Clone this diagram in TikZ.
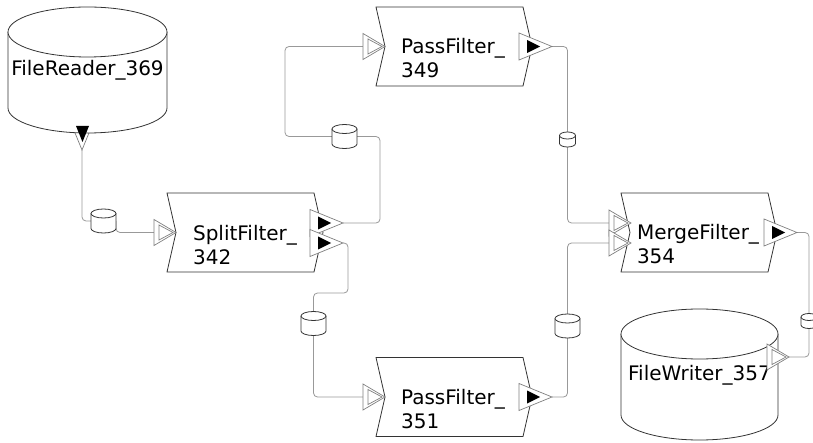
\documentclass[tikz,border=0pt]{standalone}
\usepackage{fontspec}
\setmainfont{DejaVu Sans}

\begin{document}
\begin{tikzpicture}[x=1pt, y=-1pt,
    box/.style={draw=black!80, fill=white, line width=0.8pt},
    wire/.style={draw=black!40, line width=0.8pt, rounded corners=4pt},
    portline/.style={draw=black!50, line width=0.7pt},
    label/.style={font=\fontsize{20}{24}\selectfont, align=left, inner sep=0pt},
    inport/.pic={
        \draw[portline, fill=white] (-22,-13) -- (-22,13) -- (0,0) -- cycle;
        \draw[portline] (-17,-7.5) -- (-17,7.5) -- (-3,0) -- cycle;
    },
    outport/.pic={
        \draw[portline, fill=white] (-33,-13.5) -- (-33,13.5) -- (0,0) -- cycle;
        \fill[black] (-25,-6.5) -- (-25,6.5) -- (-12,0) -- cycle;
    },
    chanbig/.pic={
        \draw[box] (-12.5,-7.5) -- (-12.5,7.5) arc[start angle=180, end angle=0, x radius=12.5, y radius=4.5] -- (12.5,-7.5);
        \draw[box] (0,-7.5) ellipse [x radius=12.5, y radius=4.5];
    },
    chansmall/.pic={
        \draw[box] (-8,-4) -- (-8,4) arc[start angle=180, end angle=0, x radius=8, y radius=3.5] -- (8,-4);
        \draw[box] (0,-4) ellipse [x radius=8, y radius=3.5];
    }]
    % Page and background
    \useasboundingbox (0,0) rectangle (813,443);
    \fill[white] (0,0) rectangle (813,443);

    % Ports and channels
    \coordinate (rdout) at (82,150);
    \coordinate (spin) at (176,232.5);
    \coordinate (spout1) at (343,223);
    \coordinate (spout2) at (343,243);
    \coordinate (pfain) at (385,46.5);
    \coordinate (pfaout) at (552,46.5);
    \coordinate (pfbin) at (385,397);
    \coordinate (pfbout) at (552,397);
    \coordinate (mgin1) at (631,223);
    \coordinate (mgin2) at (631,243);
    \coordinate (mgout) at (797,232.5);
    \coordinate (wrin) at (789,357);
    \coordinate (c1) at (103.5,221);
    \coordinate (c2) at (344.5,136.5);
    \coordinate (c3) at (313.5,323.5);
    \coordinate (c4) at (567.5,326);
    \coordinate (c5) at (567.5,139.5);
    \coordinate (c6) at (809,321);

    % Wires
    \draw[wire] (rdout) |- (c1);
    \draw[wire] (c1) ++(12.5,0) |- (spin);
    \draw[wire] (spout1) -- (380,223) -- (380,136.5) -- (285,136.5) -- (285,46.5) -- (pfain);
    \draw[wire] (spout2) -- (348,243) -- (348,293) -- (313.5,293) -- (313.5,397) -- (pfbin);
    \draw[wire] (pfaout) -| (c5) |- (mgin1);
    \draw[wire] (pfbout) -| (c4) |- (mgin2);
    \draw[wire] (mgout) -| (c6) |- (wrin);

    % FileReader
    \pic[rotate=-90] at (rdout) {outport};
    \draw[box] (8,32) -- (8,108) arc[start angle=180, end angle=0, x radius=79.5, y radius=25] -- (167,32);
    \draw[box] (87.5,32) ellipse [x radius=79.5, y radius=25];
    \fill[black] (76,126) -- (89,126) -- (82.5,142) -- cycle;
    \node[label] (reader) at (87.5,70) {FileReader\_369};

    % FileWriter
    \draw[box] (621,334) -- (621,415) arc[start angle=180, end angle=0, x radius=78.5, y radius=25] -- (778,334);
    \draw[box] (699.5,334) ellipse [x radius=78.5, y radius=25];
    \node[label] (writer) at (699.5,375) {FileWriter\_357};

    % Filters
    \draw[box] (167,193) -- (314,193) -- (323,232.5) -- (314,272) -- (167,272) -- (176,232.5) -- cycle;
    \draw[box] (376,7) -- (523,7) -- (532,46.5) -- (523,86) -- (376,86) -- (385,46.5) -- cycle;
    \draw[box] (376,357.5) -- (523,357.5) -- (532,397) -- (523,436.5) -- (376,436.5) -- (385,397) -- cycle;
    \draw[box] (621,193) -- (768,193) -- (777,232.5) -- (768,272) -- (621,272) -- (630,232.5) -- cycle;
    \node[label, anchor=base] (split) at (245,264.5) {SplitFilter\_\\342};
    \node[label, anchor=base] (pfa) at (453,77.5) {PassFilter\_\\349};
    \node[label, anchor=base] (pfb) at (453,428.5) {PassFilter\_\\351};
    \node[label, anchor=base] (merge) at (698,264) {MergeFilter\_\\354};

    % Channels
    \pic at (c1) {chanbig};
    \pic at (c2) {chanbig};
    \pic at (c3) {chanbig};
    \pic at (c4) {chanbig};
    \pic at (c5) {chansmall};
    \pic at (c6) {chansmall};

    % Port triangles
    \pic at (spin) {inport};
    \pic at (pfain) {inport};
    \pic at (pfbin) {inport};
    \pic at (mgin1) {inport};
    \pic at (mgin2) {inport};
    \pic at (wrin) {inport};
    \pic at (spout1) {outport};
    \pic at (spout2) {outport};
    \pic at (pfaout) {outport};
    \pic at (pfbout) {outport};
    \pic at (mgout) {outport};
\end{tikzpicture}
\end{document}
